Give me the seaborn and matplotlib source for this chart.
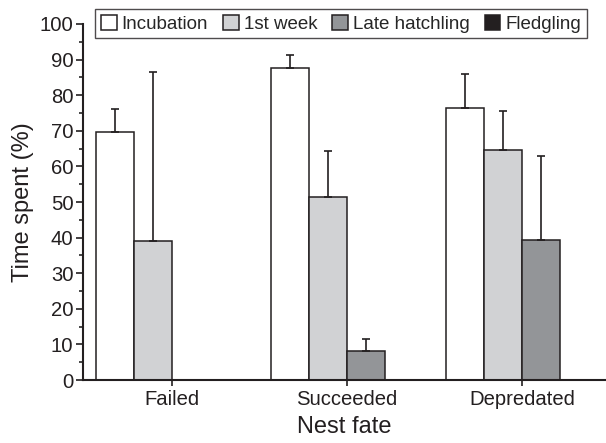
import numpy as np
import pandas as pd
import matplotlib
matplotlib.use("Agg")
import matplotlib.pyplot as plt
import seaborn as sns
from matplotlib.patches import Patch

sns.set_style("ticks")
plt.rcParams['font.family'] = ['Liberation Sans', 'DejaVu Sans']

categories = ["Failed", "Succeeded", "Depredated"]
stages = ["Incubation", "1st week", "Late hatchling", "Fledgling"]
incubation = [69.7, 87.5, 76.3]
incubation_err = [6.5, 3.8, 9.7]
first_week = [39.0, 51.3, 64.7]
first_week_err = [47.5, 12.9, 10.8]
late_hatchling = [np.nan, 8.3, 39.2]
late_hatchling_err = [np.nan, 3.2, 23.8]
fledgling = [np.nan, np.nan, np.nan]
fledgling_err = [np.nan, np.nan, np.nan]
colors = ["#ffffff", "#d1d2d4", "#939598", "#231f20"]

rows = []
for stage, vals, errs in zip(stages,
                             [incubation, first_week, late_hatchling, fledgling],
                             [incubation_err, first_week_err, late_hatchling_err, fledgling_err]):
    for c, v, e in zip(categories, vals, errs):
        rows.append({"fate": c, "stage": stage, "value": v, "err": e})
df = pd.DataFrame(rows)

fig = plt.figure(figsize=(6.06, 4.43), dpi=100)
ax = fig.add_axes([0.137, 0.142, 0.863, 0.804])

sns.barplot(data=df, x="fate", y="value", hue="stage", order=categories,
            hue_order=stages, palette=colors, width=0.87, errorbar=None,
            edgecolor="#231f20", linewidth=1.1, saturation=1, legend=False, ax=ax)

lookup = {v: e for v, e in zip(df["value"], df["err"]) if not np.isnan(v)}
for p in ax.patches:
    h = p.get_height()
    if np.isnan(h) or h == 0:
        continue
    e = lookup.get(round(h, 1))
    if e is None:
        continue
    xc = p.get_x() + p.get_width() / 2
    ax.errorbar([xc], [h], yerr=[[0], [e]], fmt="none", ecolor="#231f20",
                elinewidth=1.2, capsize=3, capthick=1.2)

ax.set_ylim(0, 100)
ax.set_xlim(-0.51, 2.48)
ax.set_yticks(np.arange(0, 101, 10))
ax.set_yticks(np.arange(0, 101, 5), minor=True)
ax.tick_params(axis="y", which="major", length=5, width=1.2, labelsize=14.6, colors="#231f20", pad=2)
ax.tick_params(axis="y", which="minor", length=3, width=1.2)
ax.tick_params(axis="x", length=4, width=1.2, labelsize=14.6, colors="#231f20", pad=3)
for s in ["top", "right"]:
    ax.spines[s].set_visible(False)
for s in ["left", "bottom"]:
    ax.spines[s].set_linewidth(1.5)
    ax.spines[s].set_color("#231f20")
ax.set_xlabel("Nest fate", fontsize=17, color="#231f20", labelpad=5)
ax.set_ylabel("Time spent (%)", fontsize=17, color="#231f20", labelpad=4)

handles = [Patch(facecolor=c, edgecolor="#231f20", linewidth=1.1) for c in colors]
leg = ax.legend(handles, stages, loc="upper center", bbox_to_anchor=(0.493, 1.042),
                ncol=4, fontsize=13.5, frameon=True, fancybox=False, handlelength=0.85,
                handleheight=0.85, handletextpad=0.25, columnspacing=0.8,
                borderpad=0.3, borderaxespad=0)
leg.get_frame().set_edgecolor("#231f20")
leg.get_frame().set_linewidth(1.0)

fig.savefig("out.png", dpi=100)
